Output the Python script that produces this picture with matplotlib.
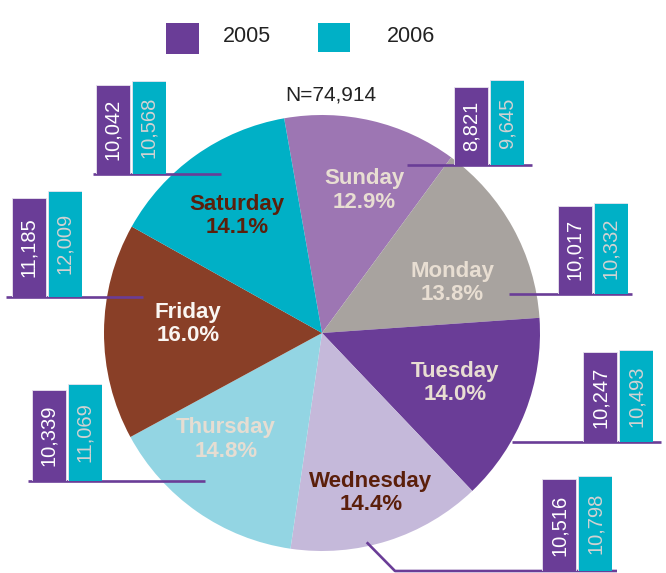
import matplotlib
matplotlib.use('Agg')
import matplotlib.pyplot as plt
from matplotlib.patches import Rectangle

# ---------------- data ----------------
days = ['Sunday', 'Monday', 'Tuesday', 'Wednesday', 'Thursday', 'Friday', 'Saturday']
counts_2005 = [8821, 10017, 10247, 10516, 10339, 11185, 10042]
counts_2006 = [9645, 10332, 10493, 10798, 11069, 12009, 10568]
years = ['2005', '2006']

# ---------------- style ----------------
c2005 = '#6A3D97'
c2006 = '#00B0C6'
year_colors = [c2005, c2006]
pie_colors = ['#9D76B3', '#A8A39F', '#6A3D97', '#C5B9DA', '#93D5E3', '#893F27', '#00B0C6']
label_colors = ['#E8DED2', '#E8DED2', '#E8DED2', '#5B1F0B', '#E6DDD2', '#FAF6F2', '#5B1F0B']
value_text_colors = ['#FFFFFF', '#D2D2D2']
FONT = ['Liberation Sans', 'DejaVu Sans']
plt.rcParams['font.family'] = FONT

W, H = 666, 573
def Y(y):  # image y (down) -> axes y (up)
    return H - y

fig = plt.figure(figsize=(W / 100, H / 100), dpi=100)
ax = fig.add_axes([0, 0, 1, 1])

# ---------------- pie ----------------
center = (322, Y(333))
radius = 218
ax.pie(counts_2006, colors=pie_colors, startangle=100, counterclock=False,
       center=center, radius=radius, wedgeprops=dict(linewidth=0))
ax.set_xlim(0, W)
ax.set_ylim(0, H)
ax.set_aspect('auto')
ax.axis('off')

total = sum(counts_2006)
label_pos = [(364, 190.5), (452, 283), (455, 383), (371, 493),
             (226, 439.5), (188, 324), (237, 216)]
for day, v, (lx, ly), col in zip(days, counts_2006, label_pos, label_colors):
    ax.text(lx, Y(ly), f"{day}\n{v / total * 100:.1f}%", ha='center', va='center',
            fontsize=16, fontweight='bold', color=col, linespacing=1.15, zorder=5)

ax.text(331, Y(95), f"N={total:,}", ha='center', va='center', fontsize=15,
        color='#222222')

# ---------------- legend ----------------
legend_boxes = [(166, 23, 33, 31), (318, 23, 32, 29)]
legend_text_x = [223, 387]
for yr, col, (bx, by, bw, bh), tx in zip(years, year_colors, legend_boxes, legend_text_x):
    ax.add_patch(Rectangle((bx, Y(by + bh)), bw, bh, facecolor=col, edgecolor='none'))
    ax.text(tx, Y(37), yr, ha='left', va='center', fontsize=15.5, color='#222222')

# ---------------- leader lines ----------------
leaders = [
    [(407, 165), (532, 165)],
    [(509, 294), (632, 294)],
    [(512, 442.3), (661, 442.3)],
    [(366.7, 542.3), (395, 571), (617, 571)],
    [(28, 481), (205, 481)],
    [(5.7, 296.7), (143.3, 296.7)],
    [(92.7, 173.7), (221.3, 173.7)],
]
for pts in leaders:
    xs = [p[0] for p in pts]
    ys = [Y(p[1]) for p in pts]
    ax.plot(xs, ys, color=c2005, lw=1.9, solid_capstyle='butt', zorder=6)

# ---------------- mini bar charts ----------------
group_left = [454, 557.7, 583.3, 542.3, 32, 11.7, 95.7]
group_base = [165, 294, 442.3, 571.3, 481, 296.7, 173.7]
bar_w, gap = 34, 2
group_w = 2 * bar_w + gap
axh = 130
px_per_unit = 0.0088
for gl, gb, v5, v6 in zip(group_left, group_base, counts_2005, counts_2006):
    bax = fig.add_axes([gl / W, (H - gb) / H, group_w / W, axh / H])
    bax.set_xlim(0, group_w)
    bax.set_ylim(0, axh / px_per_unit)
    bax.axis('off')
    bax.patch.set_alpha(0)
    for k, (v, col, tc) in enumerate(zip([v5, v6], year_colors, value_text_colors)):
        x0 = k * (bar_w + gap)
        bax.bar(x0, v, width=bar_w, align='edge', color=col,
                edgecolor='#E9E4EE', linewidth=0.6)
        bax.text(x0 + bar_w / 2, v / 2, f"{v:,}", rotation=90, ha='center',
                 va='center', fontsize=14.5, color=tc)

fig.savefig('out.png', dpi=100)
